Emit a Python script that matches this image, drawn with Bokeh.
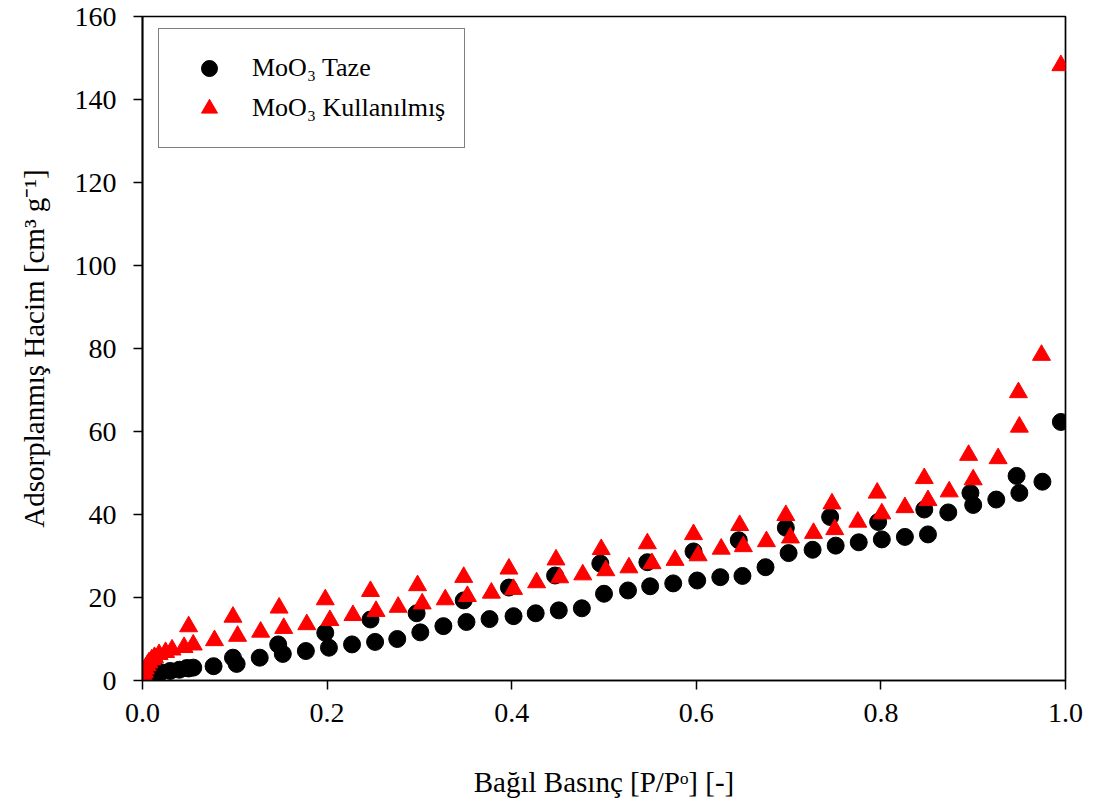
from bokeh.plotting import figure
from bokeh.models import Range1d, FixedTicker, Legend, LegendItem, CustomJSTickFormatter
from bokeh.embed import file_html
from bokeh.resources import INLINE

# MoO3 Taze (fresh) - adsorption then desorption branch
taze_x = [0.0005, 0.002, 0.005, 0.01, 0.015, 0.02, 0.03, 0.04, 0.05, 0.055,
          0.077, 0.102, 0.127, 0.152, 0.177, 0.202, 0.227, 0.252, 0.276, 0.301,
          0.326, 0.351, 0.376, 0.402, 0.426, 0.451, 0.476, 0.500, 0.526, 0.550,
          0.575, 0.601, 0.626, 0.650, 0.675, 0.700, 0.726, 0.751, 0.776, 0.801,
          0.826, 0.851, 0.873, 0.900, 0.925, 0.950, 0.975, 0.995,
          0.947, 0.897, 0.847, 0.797, 0.745, 0.697, 0.646, 0.597, 0.547, 0.496,
          0.447, 0.397, 0.348, 0.297, 0.247, 0.198, 0.147, 0.098, 0.048]
taze_y = [0.3, 0.6, 1.0, 1.4, 1.7, 2.0, 2.3, 2.6, 2.9, 3.1,
          3.45, 4.0, 5.5, 6.4, 7.1, 7.9, 8.7, 9.3, 10.0, 11.6,
          13.1, 14.1, 14.8, 15.5, 16.2, 16.9, 17.4, 20.9, 21.7, 22.7,
          23.4, 24.1, 24.9, 25.2, 27.3, 30.7, 31.5, 32.5, 33.3, 34.0,
          34.6, 35.2, 40.5, 42.3, 43.6, 45.2, 47.9, 62.3,
          49.3, 45.2, 41.2, 38.2, 39.4, 36.8, 33.8, 31.1, 28.5, 28.2,
          25.3, 22.4, 19.3, 16.2, 14.7, 11.5, 8.7, 5.5, 3.0]

# MoO3 Kullanilmis (used) - adsorption then desorption branch
kull_x = [0.0005, 0.001, 0.002, 0.003, 0.005, 0.007, 0.01, 0.013, 0.018, 0.025,
          0.032, 0.045, 0.055,
          0.078, 0.103, 0.128, 0.153, 0.178, 0.203, 0.228, 0.253, 0.277, 0.303,
          0.328, 0.352, 0.378, 0.402, 0.427, 0.452, 0.477, 0.502, 0.527, 0.552,
          0.577, 0.602, 0.627, 0.651, 0.676, 0.702, 0.727, 0.750, 0.775, 0.801,
          0.826, 0.851, 0.874, 0.900, 0.927, 0.950, 0.974, 0.995,
          0.949, 0.895, 0.847, 0.796, 0.747, 0.697, 0.647, 0.597, 0.547, 0.497,
          0.448, 0.397, 0.348, 0.298, 0.247, 0.198, 0.148, 0.098, 0.050]
kull_y = [0.5, 1.2, 2.0, 2.8, 3.6, 4.3, 5.0, 5.6, 6.3, 6.8,
          7.4, 8.0, 8.6,
          9.65, 10.7, 11.7, 12.6, 13.5, 14.5, 15.7, 16.7, 17.7, 18.5,
          19.5, 20.3, 21.1, 22.0, 23.6, 24.8, 25.5, 26.5, 27.2, 28.2,
          29.0, 30.1, 31.7, 32.3, 33.5, 34.4, 35.5, 36.4, 38.2, 40.2,
          41.7, 43.4, 45.5, 48.4, 53.5, 61.1, 78.4, 148.2,
          69.4, 54.3, 48.7, 45.2, 42.6, 39.8, 37.4, 35.2, 33.0, 31.6,
          29.1, 26.9, 24.9, 22.9, 21.5, 19.5, 17.5, 15.3, 13.0]

x_ticks = [0.0, 0.2, 0.4, 0.6, 0.8, 1.0]
y_ticks = [0, 20, 40, 60, 80, 100, 120, 140, 160]
series_names = ["MoO\u2083 Taze", "MoO\u2083 Kullan\u0131lm\u0131\u015f"]
x_label = "Ba\u011f\u0131l Bas\u0131n\u00e7 [P/P\u1d52] [-]"
y_label = "Adsorplanm\u0131\u015f Hacim [cm\u00b3 g\u207b\u00b9]"

FONT = "Liberation Serif"

p = figure(width=1096, height=809, output_backend="svg", toolbar_location=None,
           x_range=Range1d(0, 1), y_range=Range1d(0, 160),
           min_border_left=142, min_border_right=31, min_border_top=16,
           min_border_bottom=129)
p.background_fill_color = "white"
p.border_fill_color = "white"
p.grid.visible = False
p.outline_line_color = "black"
p.outline_line_width = 1.7

r1 = p.scatter(taze_x, taze_y, marker="circle", size=17,
               fill_color="black", line_color="black")
r2 = p.scatter(kull_x, kull_y, marker="triangle", size=18,
               fill_color="#ff0000", line_color="#ff0000")

for ax in (p.xaxis[0], p.yaxis[0]):
    ax.axis_line_color = "black"
    ax.axis_line_width = 1.7
    ax.major_tick_line_color = "black"
    ax.major_tick_line_width = 1.5
    ax.major_tick_out = 9
    ax.major_tick_in = 0
    ax.minor_tick_line_color = None
    ax.major_label_text_font = FONT
    ax.major_label_text_font_size = "28px"
    ax.major_label_text_color = "black"
    ax.axis_label_text_font = FONT
    ax.axis_label_text_font_size = "29px"
    ax.axis_label_text_font_style = "normal"
    ax.axis_label_text_color = "black"

p.xaxis.ticker = FixedTicker(ticks=x_ticks)
p.yaxis.ticker = FixedTicker(ticks=y_ticks)
p.xaxis.formatter = CustomJSTickFormatter(code="return tick.toFixed(1);")
p.yaxis.formatter = CustomJSTickFormatter(code="return tick.toFixed(0);")
p.xaxis.axis_label = x_label
p.yaxis.axis_label = y_label
p.xaxis.major_label_standoff = 14
p.yaxis.major_label_standoff = 17
p.xaxis.axis_label_standoff = 41
p.yaxis.axis_label_standoff = 22

legend = Legend(items=[LegendItem(label=series_names[0], renderers=[r1]),
                       LegendItem(label=series_names[1], renderers=[r2])],
                location=(16, 532))
legend.border_line_color = "black"
legend.border_line_width = 1.5
legend.background_fill_color = "white"
legend.background_fill_alpha = 1.0
legend.label_text_font = FONT
legend.label_text_font_size = "26px"
legend.label_text_color = "black"
legend.glyph_width = 62
legend.glyph_height = 40
legend.label_height = 30
legend.label_standoff = 12
legend.spacing = 0
legend.padding = 19
legend.margin = 0
p.add_layout(legend, "center")

open("out.html", "w").write(file_html(p, INLINE))
